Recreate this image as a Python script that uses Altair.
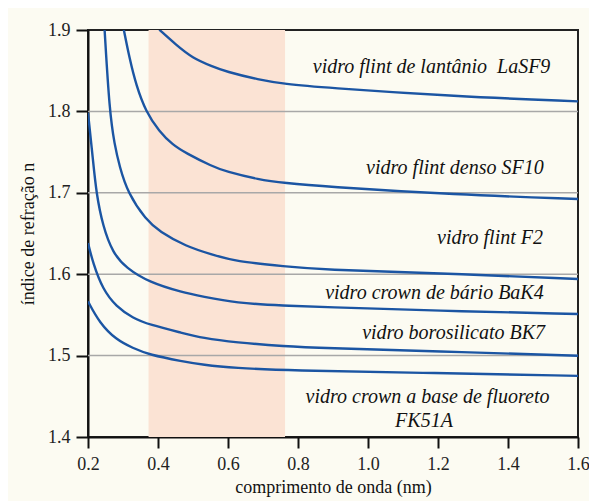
import altair as alt
import pandas as pd

# ---- data ----
wl_lasf9 = [0.4037, 0.4509, 0.4983, 0.5551, 0.5929, 0.6878, 0.7634, 0.8676, 1.2511, 1.6]
n_lasf9 = [1.9004, 1.8820, 1.8656, 1.8553, 1.8491, 1.8389, 1.8337, 1.8295, 1.8184, 1.8123]

wl_sf10 = [0.3023, 0.3185, 0.3372, 0.3656, 0.4037, 0.4415, 0.4793, 0.5551, 0.5929, 0.6878, 0.7634, 0.8676, 1.2511, 1.6]
n_sf10 = [1.9004, 1.8656, 1.8328, 1.7993, 1.7754, 1.7591, 1.7489, 1.7324, 1.7263, 1.7161, 1.7120, 1.7079, 1.6977, 1.6924]

wl_f2 = [0.2474, 0.2616, 0.2759, 0.2901, 0.3136, 0.3656, 0.4037, 0.4793, 0.5551, 0.6213, 0.7634, 0.8676, 1.1943, 1.6]
n_f2 = [1.9004, 1.7993, 1.7591, 1.7324, 1.6998, 1.6668, 1.6526, 1.6342, 1.6240, 1.6157, 1.6096, 1.6055, 1.6015, 1.5941]

wl_bak4 = [0.2, 0.2142, 0.2236, 0.2426, 0.2710, 0.3088, 0.3753, 0.4699, 0.5267, 0.6213, 0.7634, 0.8676, 1.1943, 1.6]
n_bak4 = [1.7984, 1.7407, 1.6998, 1.6587, 1.6260, 1.6076, 1.5899, 1.5776, 1.5727, 1.5646, 1.5613, 1.5597, 1.5552, 1.5511]

wl_bk7 = [0.2, 0.2142, 0.2426, 0.2804, 0.3278, 0.3753, 0.4699, 0.5267, 0.6213, 0.7634, 0.8676, 1.1943, 1.6]
n_bk7 = [1.6383, 1.6138, 1.5810, 1.5604, 1.5462, 1.5380, 1.5278, 1.5216, 1.5162, 1.5113, 1.5093, 1.5052, 1.4999]

wl_fk51a = [0.2, 0.2332, 0.2804, 0.3278, 0.3753, 0.4699, 0.5267, 0.6213, 0.7634, 1.1943, 1.6]
n_fk51a = [1.5666, 1.5400, 1.5195, 1.5093, 1.5010, 1.4929, 1.4888, 1.4848, 1.4818, 1.4786, 1.4751]

visible_band = [0.373, 0.763]
grid_values = [1.5, 1.6, 1.7, 1.8]

label_texts = ["vidro flint de lantânio\u00a0\u00a0LaSF9", "vidro flint denso SF10", "vidro flint F2",
               "vidro crown de bário BaK4", "vidro borosilicato BK7"]
label_x = [1.521, 1.502, 1.500, 1.502, 1.506]
label_y = [1.855, 1.731, 1.645, 1.577, 1.528]
fk_texts = ["vidro crown a base de fluoreto", "FK51A"]
fk_x = [1.170, 1.160]
fk_y = [1.449, 1.420]

# ---- build tables ----
series = [("LaSF9", wl_lasf9, n_lasf9), ("SF10", wl_sf10, n_sf10), ("F2", wl_f2, n_f2),
          ("BaK4", wl_bak4, n_bak4), ("BK7", wl_bk7, n_bk7), ("FK51A", wl_fk51a, n_fk51a)]
rows = []
for name, xs, ys in series:
    for i, (a, b) in enumerate(zip(xs, ys)):
        rows.append({"glass": name, "wl": a, "n": b, "order": i})
curves = pd.DataFrame(rows)

band = pd.DataFrame({"x0": [visible_band[0]], "x1": [visible_band[1]]})
grid = pd.DataFrame({"n": grid_values})
labels = pd.DataFrame({"wl": label_x, "n": label_y, "text": label_texts})
fk = pd.DataFrame({"wl": fk_x, "n": fk_y, "text": fk_texts})

FONT = "'Liberation Serif', 'Times New Roman', Times, serif"
xscale = alt.Scale(domain=[0.2, 1.6], nice=False, zero=False)
yscale = alt.Scale(domain=[1.4, 1.9], nice=False, zero=False)

xaxis = alt.Axis(values=[0.2, 0.4, 0.6, 0.8, 1.0, 1.2, 1.4, 1.6], format=".1f",
                 title="comprimento de onda (nm)", grid=False, labelFlush=False,
                 domainColor="#111", domainWidth=2, tickColor="#111", tickWidth=2,
                 tickSize=11, labelFont=FONT, labelFontSize=18, labelColor="#222",
                 labelPadding=7, titleFont=FONT, titleFontSize=18, titleFontWeight="normal",
                 titleColor="#111", titlePadding=5)
yaxis = alt.Axis(values=[1.4, 1.5, 1.6, 1.7, 1.8, 1.9], format=".1f",
                 title="índice de refração n", grid=False, labelFlush=False,
                 domainColor="#111", domainWidth=2, tickColor="#111", tickWidth=2,
                 tickSize=12, labelFont=FONT, labelFontSize=18, labelColor="#222",
                 labelPadding=6, titleFont=FONT, titleFontSize=18, titleFontWeight="normal",
                 titleColor="#111", titlePadding=10)

band_layer = alt.Chart(band).mark_rect(color="#FBE3D4").encode(
    x=alt.X("x0:Q", scale=xscale, axis=xaxis),
    x2="x1:Q",
    y=alt.value(0),
    y2=alt.value(407),
)

grid_layer = alt.Chart(grid).mark_rule(color="#A8A8A8", strokeWidth=1.5).encode(
    y=alt.Y("n:Q", scale=yscale, axis=yaxis),
)

line_layer = alt.Chart(curves).mark_line(color="#1B55A3", strokeWidth=2.4,
                                         interpolate="basis", clip=True).encode(
    x=alt.X("wl:Q", scale=xscale),
    y=alt.Y("n:Q", scale=yscale),
    detail="glass:N",
    order="order:Q",
)

text_layer = alt.Chart(labels).mark_text(font=FONT, fontSize=20, fontStyle="italic",
                                         align="right", baseline="middle", color="#111").encode(
    x=alt.X("wl:Q", scale=xscale),
    y=alt.Y("n:Q", scale=yscale),
    text="text:N",
)

fk_layer = alt.Chart(fk).mark_text(font=FONT, fontSize=20, fontStyle="italic",
                                   align="center", baseline="middle", color="#111").encode(
    x=alt.X("wl:Q", scale=xscale),
    y=alt.Y("n:Q", scale=yscale),
    text="text:N",
)

chart = alt.layer(band_layer, grid_layer, line_layer, text_layer, fk_layer).properties(
    width=490,
    height=407,
    background="#FCFBF2",
    padding={"left": 80, "top": 22, "right": 11, "bottom": 64},
    autosize=alt.AutoSizeParams(type="none"),
).configure_view(stroke="#222", strokeWidth=2)

chart.save("out.html", embed_options={"renderer": "svg", "actions": False})
